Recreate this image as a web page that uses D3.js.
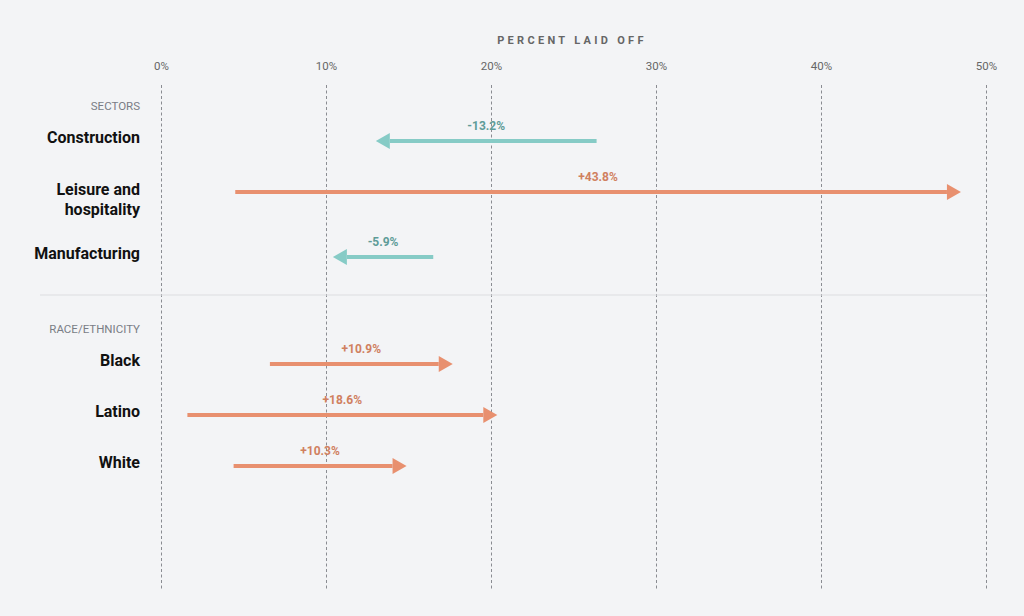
<!DOCTYPE html>
<html>
<head>
<meta charset="utf-8">
<script src="https://cdn.jsdelivr.net/npm/d3@7"></script>
<style>
    body { margin: 0; background: #f3f4f6; }
    svg { display: block; font-family: Roboto, "Noto Sans", sans-serif; }
</style>
</head>
<body>
<div id="chart"></div>
<script>
// Data
const sectors = ["Construction", "Leisure and hospitality", "Manufacturing"];
const sectorBefore = [26.4, 4.5, 16.5];
const sectorChange = [-13.2, 43.8, -5.9];

const races = ["Black", "Latino", "White"];
const raceBefore = [6.6, 1.6, 4.4];
const raceChange = [10.9, 18.6, 10.3];

const groups = ["SECTORS", "RACE/ETHNICITY"];
const ticks = [0, 10, 20, 30, 40, 50];

const width = 1024, height = 616;
const upColor = "#e8906f", upText = "#d0805f";
const downColor = "#86cbc6", downText = "#5e9c98";

const svg = d3.select("#chart")
    .append("svg")
    .attr("width", width)
    .attr("height", height);

const x = d3.scaleLinear().domain([0, 50]).range([161, 986]);

// Title
svg.append("text")
    .attr("x", 572)
    .attr("y", 44)
    .attr("text-anchor", "middle")
    .attr("fill", "#666")
    .style("font-size", "11px")
    .style("font-weight", "700")
    .style("letter-spacing", "3.3px")
    .text("PERCENT LAID OFF");

// Top axis with dashed gridlines
const axis = svg.append("g")
    .attr("transform", "translate(0,85)")
    .call(d3.axisTop(x).tickValues(ticks).tickFormat(d => d + "%").tickSize(-505).tickPadding(15));
axis.select(".domain").remove();
axis.selectAll(".tick line")
    .attr("stroke", "#8a8c92")
    .attr("stroke-dasharray", "3,2.5");
axis.selectAll(".tick text")
    .attr("fill", "#666")
    .style("font-size", "11.5px")
    .style("font-family", "Roboto, sans-serif");

// Build rows with a running y position
const groupRows = [
    sectors.map((d, i) => ({name: d, before: sectorBefore[i], change: sectorChange[i]})),
    races.map((d, i) => ({name: d, before: raceBefore[i], change: raceChange[i]}))
];

let rows = [];
let cursor = 106;
groupRows.forEach((list, g) => {
    svg.append("text")
        .attr("x", 140)
        .attr("y", cursor + 4)
        .attr("text-anchor", "end")
        .attr("fill", "#7a7d85")
        .style("font-size", "11.5px")
        .text(groups[g]);
    cursor += 35;
    list.forEach((r, i) => {
        r.y = cursor;
        r.lines = r.name === "Leisure and hospitality" ? ["Leisure and", "hospitality"] : [r.name];
        rows.push(r);
        cursor += 51 + (r.lines.length > 1 ? 14 : 0);
    });
    cursor -= 51;
    if (g < groupRows.length - 1) {
        cursor += 38;
        svg.append("line")
            .attr("x1", 40).attr("x2", 986)
            .attr("y1", cursor).attr("y2", cursor)
            .attr("stroke", "#dcdde0")
            .attr("stroke-width", 1);
        cursor += 34;
    }
});

// Row labels
rows.forEach(r => {
    const t = svg.append("text")
        .attr("text-anchor", "end")
        .attr("fill", "#111")
        .style("font-size", "16px")
        .style("font-weight", "700");
    if (r.lines.length > 1) {
        r.lines.forEach((l, k) => {
            t.append("tspan").attr("x", 140).attr("y", r.y + 3 + k * 20).text(l);
        });
    } else {
        t.attr("x", 140).attr("y", r.y + 2).text(r.name);
    }
});

// Arrows: line ends at the value, head reaches a little past it
const head = 14, half = 8, over = 3;
rows.forEach(r => {
    const after = r.before + r.change;
    const x0 = x(r.before), x1 = x(after);
    const dir = x1 > x0 ? 1 : -1;
    const col = dir > 0 ? upColor : downColor;
    const tip = x1 + dir * over;

    svg.append("line")
        .attr("x1", x0).attr("x2", tip - dir * head)
        .attr("y1", r.y).attr("y2", r.y)
        .attr("stroke", col)
        .attr("stroke-width", 4);

    svg.append("path")
        .attr("d", d3.line()([[tip, r.y], [tip - dir * head, r.y - half], [tip - dir * head, r.y + half]]) + "Z")
        .attr("fill", col);

    svg.append("text")
        .attr("x", (x0 + tip) / 2)
        .attr("y", r.y - 11)
        .attr("text-anchor", "middle")
        .attr("fill", dir > 0 ? upText : downText)
        .style("font-size", "12px")
        .style("font-weight", "700")
        .text((r.change > 0 ? "+" : "") + r.change.toFixed(1) + "%");
});
</script>
</body>
</html>
